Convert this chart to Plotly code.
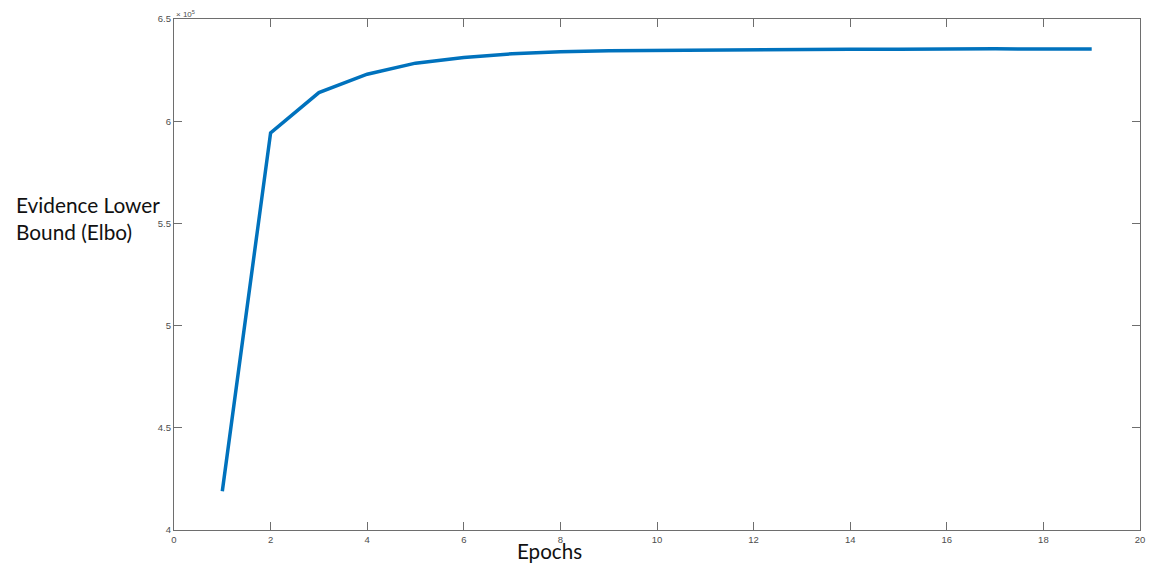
import plotly.graph_objects as go

epochs = list(range(1, 20))
elbo = [4.19e5, 5.943e5, 6.140e5, 6.230e5, 6.284e5, 6.312e5, 6.330e5, 6.340e5,
        6.345e5, 6.347e5, 6.350e5, 6.352e5, 6.352e5, 6.352e5, 6.352e5, 6.354e5,
        6.354e5, 6.353e5, 6.353e5]

x_ticks = [0, 2, 4, 6, 8, 10, 12, 14, 16, 18, 20]
y_ticks = [4.0e5, 4.5e5, 5.0e5, 5.5e5, 6.0e5, 6.5e5]
y_tick_text = ["4", "4.5", "5", "5.5", "6", "6.5"]

fig = go.Figure()
fig.add_trace(go.Scatter(x=epochs, y=elbo, mode="lines",
                         line=dict(color="#0072BD", width=3.5)))

axis_common = dict(showline=True, linecolor="#6e6e6e", linewidth=1.2, mirror="ticks",
                   ticks="inside", ticklen=8, tickcolor="#6e6e6e", showgrid=False,
                   zeroline=False, automargin=False, ticklabeloverflow="allow",
                   tickfont=dict(family="Liberation Sans, Arial", size=9.5, color="#4d4d4d"))

fig.update_xaxes(range=[0, 20], tickvals=x_ticks, **axis_common)
fig.update_yaxes(range=[4.0e5, 6.5e5], tickvals=y_ticks, ticktext=y_tick_text, **axis_common)

fig.add_annotation(text="× 10<sup>5</sup>", xref="paper", yref="paper", x=0, y=1.0,
                   xanchor="left", yanchor="bottom", showarrow=False, yshift=-2,
                   font=dict(family="Liberation Sans, Arial", size=8, color="#4d4d4d"))
fig.add_annotation(text="Evidence Lower<br>Bound (Elbo)", xref="paper", yref="paper",
                   x=-0.1656, y=0.6115, xanchor="left", yanchor="middle", align="left",
                   showarrow=False, font=dict(family="Lato", size=20.8, color="#111111"))
fig.add_annotation(text="Epochs", xref="paper", yref="paper", x=0.389, y=0,
                   xanchor="center", yanchor="middle", yshift=-21, showarrow=False,
                   font=dict(family="Lato", size=20.6, color="#111111"))

fig.update_layout(width=1149, height=569, margin=dict(l=174, r=9, t=19, b=39),
                  plot_bgcolor="white", paper_bgcolor="white", showlegend=False)

fig.write_html("out.html", config={"displayModeBar": False},
               post_script="document.body.style.margin='0';")
